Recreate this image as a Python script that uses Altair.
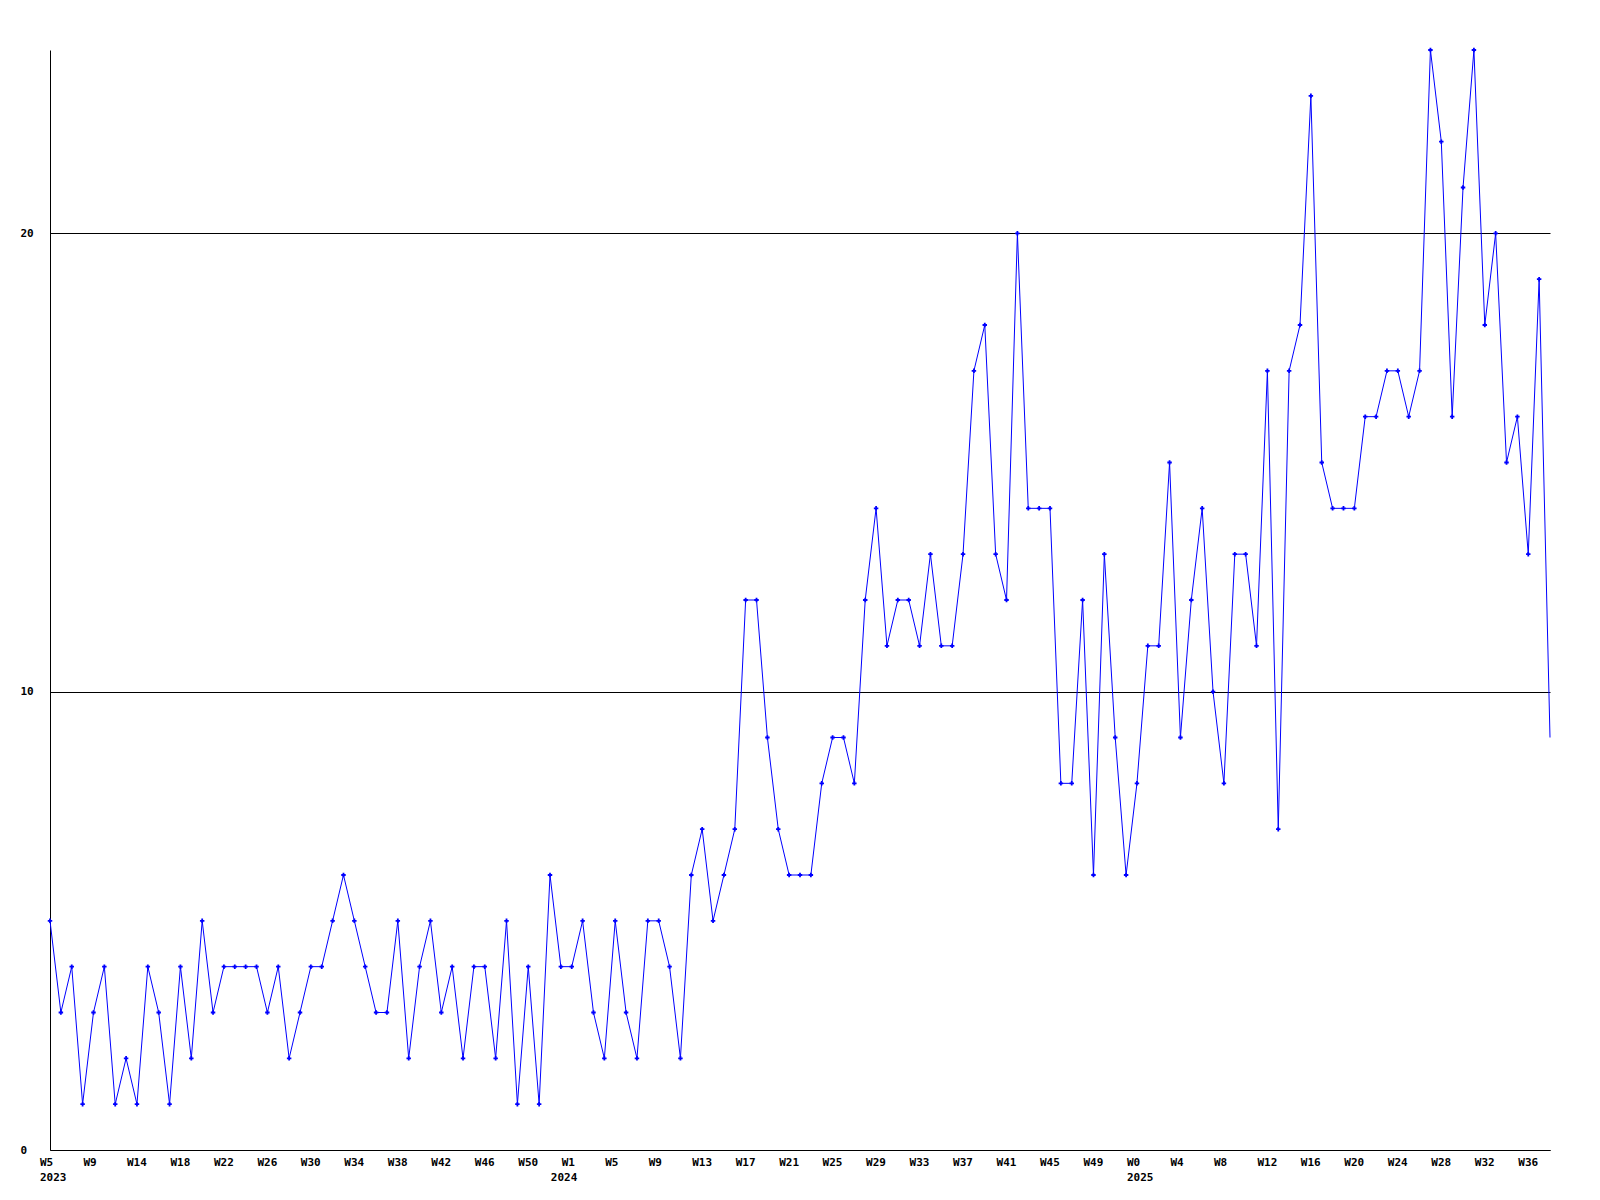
import altair as alt
import pandas as pd

# Weekly values, one per week
values = [
    5, 3, 4, 1, 3, 4, 1, 2, 1, 4, 3, 1, 4, 2, 5, 3, 4, 4, 4, 4, 3, 4, 2, 3,
    4, 4, 5, 6, 5, 4, 3, 3, 5, 2, 4, 5, 3, 4, 2, 4, 4, 2, 5, 1, 4, 1, 6, 4,
    4, 5, 3, 2, 5, 3, 2, 5, 5, 4, 2, 6, 7, 5, 6, 7, 12, 12, 9, 7, 6, 6, 6, 8,
    9, 9, 8, 12, 14, 11, 12, 12, 11, 13, 11, 11, 13, 17, 18, 13, 12, 20, 14, 14,
    14, 8, 8, 12, 6, 13, 9, 6, 8, 11, 11, 15, 9, 12, 14, 10, 8, 13, 13, 11,
    17, 7, 17, 18, 23, 15, 14, 14, 14, 16, 16, 17, 17, 16, 17, 24, 22, 16, 21, 24,
    18, 20, 15, 16, 13, 19, 9,
]

# Week tick labels (every 4th point)
week_labels = [
    "W5", "W9", "W14", "W18", "W22", "W26", "W30", "W34", "W38", "W42", "W46", "W50",
    "W1", "W5", "W9", "W13", "W17", "W21", "W25", "W29", "W33", "W37", "W41", "W45", "W49",
    "W0", "W4", "W8", "W12", "W16", "W20", "W24", "W28", "W32", "W36",
]
week_label_pos = list(range(0, 4 * len(week_labels), 4))

year_labels = ["2023", "2024", "2025"]
year_label_pos = [0, 47, 100]

y_ticks = [0, 10, 20]

n = len(values)
df = pd.DataFrame({"i": list(range(n)), "v": values})
df_pts = df[df["i"] < n - 1]
df_weeks = pd.DataFrame({"i": week_label_pos, "t": week_labels})
df_years = pd.DataFrame({"i": year_label_pos, "t": year_labels})

FONT = "DejaVu Sans Mono"
BLUE = "#0000ff"

xs = alt.Scale(domain=[0, n - 1], nice=False, zero=False)
ys = alt.Scale(domain=[0, 24], nice=False)

x_axis = alt.Axis(labels=False, ticks=False, grid=False, title=None,
                  domainColor="black", domainWidth=1)
y_axis = alt.Axis(values=y_ticks, grid=True, gridColor="black", gridWidth=1,
                  gridOpacity=1, ticks=False, domainColor="black", domainWidth=1,
                  labelAlign="left", labelPadding=30, labelFont=FONT,
                  labelFontWeight="bold", labelFontSize=11, labelColor="black",
                  title=None)

line = alt.Chart(df).mark_line(color=BLUE, strokeWidth=1).encode(
    x=alt.X("i:Q", scale=xs, axis=x_axis),
    y=alt.Y("v:Q", scale=ys, axis=y_axis),
)

pts = alt.Chart(df_pts).mark_point(shape="cross", filled=True, size=20,
                                   color=BLUE, opacity=1).encode(
    x=alt.X("i:Q", scale=xs),
    y=alt.Y("v:Q", scale=ys),
)

wk = alt.Chart(df_weeks).mark_text(align="left", baseline="alphabetic", dx=-10,
                                    font=FONT, fontWeight="bold", fontSize=11,
                                    color="black").encode(
    x=alt.X("i:Q", scale=xs),
    y=alt.value(1116),
    text="t:N",
)

yr = alt.Chart(df_years).mark_text(align="left", baseline="alphabetic", dx=-10,
                                    font=FONT, fontWeight="bold", fontSize=11,
                                    color="black").encode(
    x=alt.X("i:Q", scale=xs),
    y=alt.value(1131),
    text="t:N",
)

chart = alt.layer(line, pts, wk, yr).properties(
    width=1500,
    height=1100,
    autosize=alt.AutoSizeParams(type="none"),
    padding={"left": 42, "top": 42, "right": 42, "bottom": 42},
    background="white",
).configure_view(stroke=None)

chart.save("out.html", embed_options={"renderer": "svg", "actions": False})
